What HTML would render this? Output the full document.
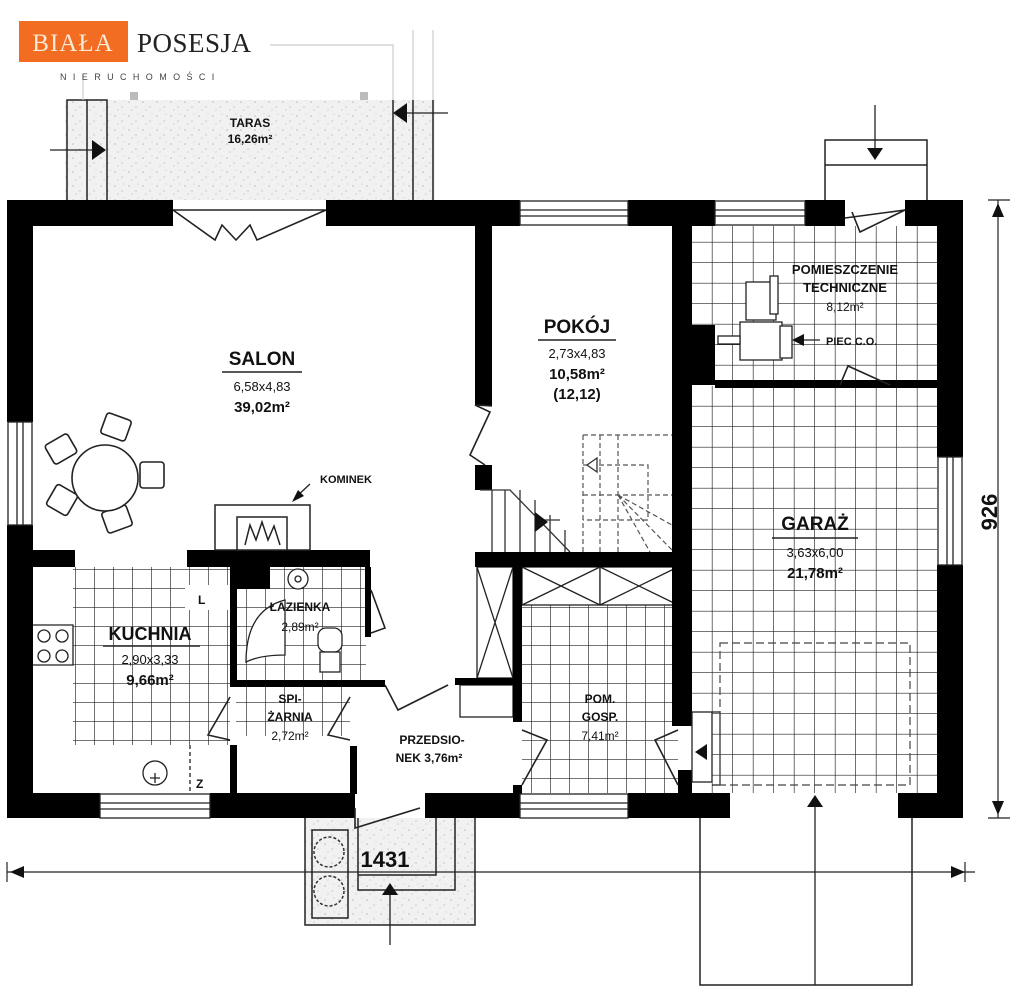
<!DOCTYPE html>
<html><head><meta charset="utf-8"><style>
html,body{margin:0;padding:0;background:#fff;}
svg{display:block;font-family:"Liberation Sans",Arial,sans-serif;}
text{font-weight:bold;fill:#111;}
text.n{font-weight:normal;}
</style></head><body>
<svg width="1024" height="996" viewBox="0 0 1024 996" xmlns="http://www.w3.org/2000/svg">
<defs>
<pattern id="g19" width="19" height="19" patternUnits="userSpaceOnUse" x="0" y="0"><path d="M19 0V19M0 19H19" stroke="#222" stroke-width="1.3" fill="none"/></pattern>
<pattern id="g21" width="20.5" height="20.5" patternUnits="userSpaceOnUse" x="692" y="386"><path d="M20.5 0V20.5M0 20.5H20.5" stroke="#222" stroke-width="1.3" fill="none"/></pattern>
<pattern id="spk" width="14" height="14" patternUnits="userSpaceOnUse"><rect width="14" height="14" fill="#f1f1f1"/><circle cx="3" cy="4" r="0.8" fill="#bbb"/><circle cx="10" cy="9" r="0.8" fill="#c4c4c4"/><circle cx="6" cy="12" r="0.6" fill="#bbb"/><circle cx="12" cy="2" r="0.6" fill="#ccc"/></pattern>
</defs>

<!-- terrace -->
<rect x="65" y="100" width="370" height="100" fill="url(#spk)"/>
<g stroke="#222" stroke-width="1.5" fill="none">
<path d="M67 200V100H107V200M87 100V200"/>
<path d="M393 200V100M413 200V100M433 200V100"/>
</g>
<g stroke="#ccc" stroke-width="1.2" fill="none">
<path d="M413 100V30M433 100V30M393 100V45H270M83 100V75"/>
</g>
<rect x="130" y="92" width="8" height="8" fill="#bbb"/><rect x="360" y="92" width="8" height="8" fill="#bbb"/>
<path d="M50 150H100" stroke="#222" stroke-width="1.3"/><path d="M92 140L106 150L92 160Z" fill="#111"/>
<path d="M400 113H448" stroke="#222" stroke-width="1.3"/><path d="M407 103L393 113L407 123Z" fill="#111"/>
<text x="250" y="127" font-size="12" text-anchor="middle">TARAS</text>
<text x="250" y="143" font-size="12" text-anchor="middle">16,26m²</text>

<!-- tech steps top -->
<g stroke="#222" stroke-width="1.5" fill="none"><path d="M825 200V140H927V200M825 165H927"/></g>
<path d="M875 105V150" stroke="#222" stroke-width="1.3"/><path d="M867 148L875 160L883 148Z" fill="#111"/>

<!-- entry steps bottom -->
<rect x="305" y="818" width="170" height="107" fill="url(#spk)"/>
<g stroke="#222" stroke-width="1.5" fill="none">
<path d="M305 818V925H475V818M358 818V890H455V818M436 818V875H358M312 830H348V918H312Z"/>
</g>
<circle cx="329" cy="852" r="15" fill="none" stroke="#333" stroke-width="1.5" stroke-dasharray="3 2"/>
<circle cx="329" cy="891" r="15" fill="none" stroke="#333" stroke-width="1.5" stroke-dasharray="3 2"/>
<path d="M390 885V945" stroke="#222" stroke-width="1.3"/><path d="M382 895L390 883L398 895Z" fill="#111"/>

<!-- garage front -->
<g stroke="#222" stroke-width="1.5" fill="none"><path d="M700 818V985H912V818"/></g>
<path d="M815 800V985" stroke="#222" stroke-width="1.3"/><path d="M807 807L815 795L823 807Z" fill="#111"/>

<!-- dimension lines -->
<path d="M7 872H975" stroke="#222" stroke-width="1.2"/>
<path d="M7 862V882M965 862V882" stroke="#222" stroke-width="1.2"/>
<path d="M10 872L24 866V878Z" fill="#111"/><path d="M965 872L951 866V878Z" fill="#111"/>
<text x="385" y="867" font-size="22" text-anchor="middle">1431</text>
<path d="M998 200V818M988 200H1010M988 818H1010" stroke="#222" stroke-width="1.2"/>
<path d="M998 203L992 217H1004Z" fill="#111"/><path d="M998 815L992 801H1004Z" fill="#111"/>
<text x="0" y="0" font-size="22" text-anchor="middle" transform="translate(997,512) rotate(-90)">926</text>

<!-- tile grids -->
<rect x="73" y="567" width="157" height="178" fill="url(#g19)"/>
<rect x="33" y="567" width="40" height="178" fill="#fff"/>
<rect x="185" y="585" width="45" height="25" fill="#fff"/>
<rect x="236" y="567" width="130" height="113" fill="url(#g19)"/>
<rect x="236" y="686" width="114" height="50" fill="url(#g19)"/>
<rect x="692" y="386" width="245" height="407" fill="url(#g21)"/>
<rect x="692" y="226" width="245" height="154" fill="url(#g21)"/>
<rect x="522" y="605" width="156" height="188" fill="url(#g19)"/>

<!-- pom gosp top X boxes -->
<g stroke="#222" stroke-width="1.3" fill="#fff">
<rect x="522" y="567" width="78" height="38"/><rect x="600" y="567" width="78" height="38"/>
<path d="M522 567L600 605M600 567L522 605M600 567L678 605M678 567L600 605" fill="none"/>
<rect x="477" y="567" width="36" height="111"/><path d="M477 567L513 678M513 567L477 678" fill="none"/>
<rect x="460" y="685" width="53" height="32"/>
</g>

<!-- walls -->
<g fill="#000">
<rect x="7" y="200" width="166" height="26"/>
<rect x="326" y="200" width="194" height="26"/>
<rect x="628" y="200" width="87" height="26"/>
<rect x="805" y="200" width="40" height="26"/>
<rect x="905" y="200" width="58" height="26"/>
<rect x="7" y="200" width="26" height="222"/>
<rect x="7" y="525" width="26" height="293"/>
<rect x="937" y="200" width="26" height="257"/>
<rect x="937" y="565" width="26" height="253"/>
<rect x="7" y="793" width="93" height="25"/>
<rect x="210" y="793" width="145" height="25"/>
<rect x="425" y="793" width="95" height="25"/>
<rect x="628" y="793" width="102" height="25"/>
<rect x="898" y="793" width="65" height="25"/>
<rect x="475" y="226" width="17" height="180"/>
<rect x="475" y="465" width="17" height="25"/>
<rect x="672" y="226" width="20" height="500"/>
<rect x="692" y="325" width="23" height="60"/>
<rect x="715" y="380" width="222" height="8"/>
<rect x="475" y="552" width="217" height="15"/>
<rect x="33" y="550" width="42" height="17"/>
<rect x="187" y="550" width="183" height="17"/>
<rect x="230" y="567" width="7" height="120"/>
<rect x="230" y="567" width="40" height="22"/>
<rect x="230" y="745" width="7" height="50"/>
<rect x="365" y="567" width="6" height="70"/>
<rect x="230" y="680" width="155" height="7"/>
<rect x="455" y="678" width="65" height="7"/>
<rect x="350" y="746" width="7" height="48"/>
<rect x="513" y="567" width="9" height="155"/>
<rect x="513" y="785" width="9" height="10"/>
<rect x="678" y="770" width="14" height="25"/>
</g>

<!-- windows -->
<g stroke="#222" stroke-width="1.3" fill="#fff">
<rect x="520" y="201" width="108" height="24"/><path d="M520 210H628M520 216H628"/>
<rect x="715" y="201" width="90" height="24"/><path d="M715 210H805M715 216H805"/>
<rect x="8" y="422" width="24" height="103"/><path d="M17 422V525M23 422V525"/>
<rect x="938" y="457" width="24" height="108"/><path d="M947 457V565M953 457V565"/>
<rect x="100" y="794" width="110" height="24"/><path d="M100 803H210M100 809H210"/>
<rect x="520" y="794" width="108" height="24"/><path d="M520 803H628M520 809H628"/>
<rect x="692" y="712" width="20" height="70"/>
</g>

<!-- doors -->
<g stroke="#222" stroke-width="1.6" fill="none">
<path d="M173 210H326M173 210L215 240L222 225L236 240L250 225L257 240L326 210"/>
<path d="M492 406L475 405L490 412L470 455L485 465"/>
<path d="M845 218L905 210L860 232L852 212"/>
<path d="M840 385L848 366L890 385"/>
<path d="M371 590L385 628L371 633"/>
<path d="M385 685L398 710L448 685"/>
<path d="M230 697L208 735L230 740"/>
<path d="M350 697L328 735L350 740"/>
<path d="M355 808V828L420 808"/>
<path d="M522 730L547 740L522 785"/>
<path d="M678 730L655 740L678 785"/>
</g>
<path d="M695 752L707 744V760Z" fill="#111"/>
<path d="M712 712H720V785H712" stroke="#222" stroke-width="1.2" fill="none"/>
<rect x="720" y="643" width="190" height="142" fill="none" stroke="#444" stroke-width="1.2" stroke-dasharray="8 4"/>

<!-- stairs -->
<g stroke="#333" stroke-width="1.3" fill="none">
<path d="M492 490V552M505 490V552M520 490V552M535 500V552M550 515V552M565 530V552M480 490H510L570 552"/>
<path d="M535 520H560" />
</g>
<path d="M535 512L548 522L535 532Z" fill="#111"/>
<g stroke="#555" stroke-width="1.2" fill="none" stroke-dasharray="5 3">
<path d="M583 435H672M583 435V552M600 435V552M618 435V552M583 465H648V520H583M583 495H672M618 495L672 525M618 495L672 550M618 495L650 552"/>
</g>
<path d="M597 458L587 465L597 472Z" fill="#fff" stroke="#333" stroke-width="1.3"/>

<!-- dining table -->
<g stroke="#222" stroke-width="1.6" fill="#fff">
<rect x="103" y="416" width="26" height="22" rx="3" transform="rotate(20 116 427)"/>
<rect x="48" y="438" width="26" height="22" rx="3" transform="rotate(-30 61 449)"/>
<rect x="140" y="462" width="24" height="26" rx="3"/>
<rect x="50" y="488" width="24" height="24" rx="3" transform="rotate(30 62 500)"/>
<rect x="104" y="508" width="26" height="22" rx="3" transform="rotate(-20 117 519)"/>
<circle cx="105" cy="478" r="33"/>
</g>

<!-- fireplace -->
<g stroke="#222" stroke-width="1.5" fill="#fff">
<rect x="215" y="505" width="95" height="45"/>
<rect x="237" y="517" width="50" height="33"/>
<path d="M245 545L250 525L256 540L262 522L268 540L274 526L280 545"/>
</g>
<path d="M295 498L310 484" stroke="#222" stroke-width="1.3"/>
<path d="M292 502L298 490L304 496Z" fill="#111"/>

<!-- kitchen fixtures -->
<g stroke="#222" stroke-width="1.3" fill="none">
<path d="M33 625H73V665H33"/>
<circle cx="44" cy="636" r="6"/><circle cx="62" cy="636" r="6"/><circle cx="44" cy="656" r="6"/><circle cx="62" cy="656" r="6"/>
<circle cx="155" cy="773" r="12"/><path d="M150 778H160M155 773V783"/>
<path d="M190 745V793" stroke-dasharray="4 3"/>
<path d="M246 662Q246 610 285 600V655Q260 655 246 662Z" fill="#fff"/>
<circle cx="298" cy="579" r="10" fill="#fff"/><circle cx="298" cy="579" r="3"/>
<rect x="318" y="628" width="24" height="24" rx="8" fill="#fff"/><rect x="320" y="652" width="20" height="20" fill="#fff"/>
</g>

<!-- tech room boilers -->
<g stroke="#222" stroke-width="1.3" fill="#fff">
<rect x="746" y="282" width="30" height="38"/><rect x="770" y="276" width="8" height="38"/>
<rect x="740" y="322" width="42" height="38"/><rect x="780" y="326" width="12" height="32"/>
<rect x="718" y="336" width="22" height="8"/>
</g>
<path d="M795 340H820" stroke="#222" stroke-width="1.3"/><path d="M792 340L804 334V346Z" fill="#111"/>

<!-- labels -->
<text x="262" y="365" font-size="19" text-anchor="middle">SALON</text>
<path d="M222 372H302" stroke="#222" stroke-width="1.5"/>
<text x="262" y="391" font-size="13" text-anchor="middle" class="n">6,58x4,83</text>
<text x="262" y="412" font-size="15" text-anchor="middle">39,02m²</text>
<text x="320" y="483" font-size="11">KOMINEK</text>
<text x="577" y="333" font-size="19" text-anchor="middle">POKÓJ</text>
<path d="M538 340H616" stroke="#222" stroke-width="1.5"/>
<text x="577" y="358" font-size="13" text-anchor="middle" class="n">2,73x4,83</text>
<text x="577" y="379" font-size="15" text-anchor="middle">10,58m²</text>
<text x="577" y="399" font-size="15" text-anchor="middle">(12,12)</text>
<text x="845" y="274" font-size="13" text-anchor="middle">POMIESZCZENIE</text>
<text x="845" y="292" font-size="13" text-anchor="middle">TECHNICZNE</text>
<text x="845" y="311" font-size="12" text-anchor="middle" class="n">8,12m²</text>
<text x="826" y="345" font-size="11">PIEC C.O.</text>
<text x="815" y="530" font-size="19" text-anchor="middle">GARAŻ</text>
<path d="M772 538H858" stroke="#222" stroke-width="1.5"/>
<text x="815" y="557" font-size="13" text-anchor="middle" class="n">3,63x6,00</text>
<text x="815" y="578" font-size="15" text-anchor="middle">21,78m²</text>
<text x="150" y="640" font-size="18" text-anchor="middle">KUCHNIA</text>
<path d="M103 646H200" stroke="#222" stroke-width="1.5"/>
<text x="150" y="664" font-size="13" text-anchor="middle" class="n">2,90x3,33</text>
<text x="150" y="685" font-size="15" text-anchor="middle">9,66m²</text>
<text x="198" y="604" font-size="12">L</text>
<text x="196" y="788" font-size="12">Z</text>
<text x="300" y="611" font-size="12" text-anchor="middle">ŁAZIENKA</text>
<text x="300" y="631" font-size="12" text-anchor="middle" class="n">2,89m²</text>
<text x="290" y="703" font-size="12" text-anchor="middle">SPI-</text>
<text x="290" y="721" font-size="12" text-anchor="middle">ŻARNIA</text>
<text x="290" y="740" font-size="12" text-anchor="middle" class="n">2,72m²</text>
<text x="432" y="744" font-size="12" text-anchor="middle">PRZEDSIO-</text>
<text x="429" y="762" font-size="12" text-anchor="middle">NEK 3,76m²</text>
<text x="600" y="703" font-size="12" text-anchor="middle">POM.</text>
<text x="600" y="721" font-size="12" text-anchor="middle">GOSP.</text>
<text x="600" y="740" font-size="12" text-anchor="middle" class="n">7,41m²</text>

<!-- logo -->
<rect x="19" y="21" width="109" height="41" fill="#f26c21"/>
<text x="73" y="51" font-size="25" text-anchor="middle" class="n" style="fill:#fbe9d8;font-family:'Liberation Serif',serif;letter-spacing:1px">BIAŁA</text>
<text x="137" y="52" font-size="27" class="n" style="fill:#222;font-family:'Liberation Serif',serif;letter-spacing:0.5px">POSESJA</text>
<text x="60" y="80" font-size="9" class="n" style="fill:#444;letter-spacing:6.4px">NIERUCHOMOŚCI</text>
</svg>
</body></html>
